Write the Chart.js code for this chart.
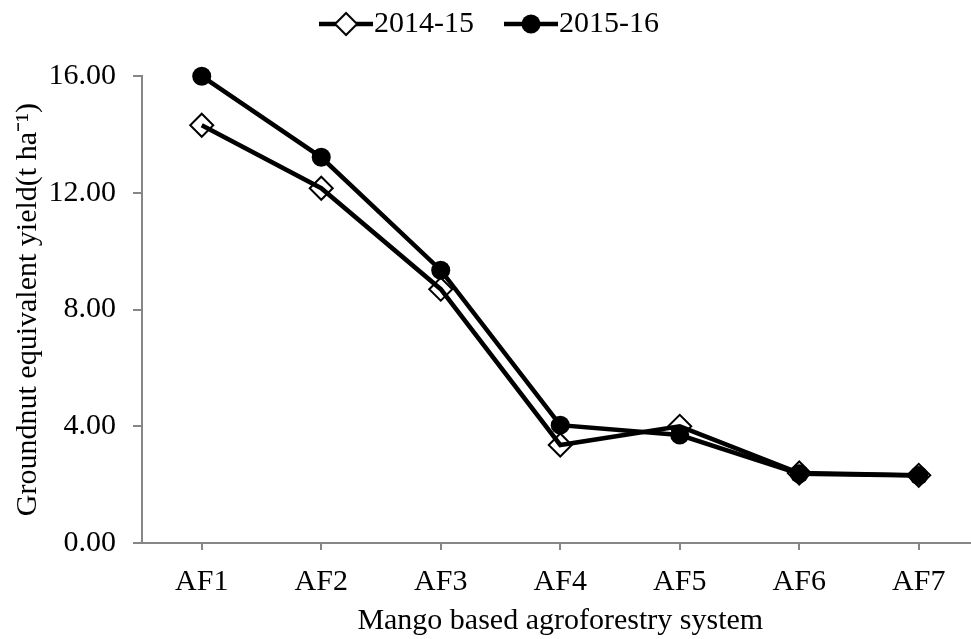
<!DOCTYPE html>
<html><head><meta charset="utf-8">
<script src="https://cdn.jsdelivr.net/npm/chart.js@4.4.1/dist/chart.umd.min.js"></script>
<style>html,body{margin:0;padding:0;background:#fff;overflow:hidden}#wrap{width:992px;height:639px;position:relative}</style>
</head><body><div id="wrap"><canvas id="c"></canvas></div>
<script>
const categories = ['AF1', 'AF2', 'AF3', 'AF4', 'AF5', 'AF6', 'AF7'];
const seriesNames = ['2014-15', '2015-16'];
const yield2014 = [14.32, 12.16, 8.70, 3.36, 4.00, 2.40, 2.32];
const yield2015 = [16.00, 13.22, 9.35, 4.04, 3.70, 2.37, 2.31];
const yTicks = [0, 4, 8, 12, 16];
const xTitle = 'Mango based agroforestry system';
const yTitle = 'Groundnut equivalent yield(t ha\u207B\u00B9)';

const FONT = "'Liberation Serif', 'Times New Roman', serif";
const FS = 30;
const AXIS = '#868686';
Chart.defaults.font.family = FONT;
Chart.defaults.font.size = FS;
Chart.defaults.color = '#000';

function legendIcon(kind) {
  const c = document.createElement('canvas');
  c.width = 54; c.height = 26;
  const g = c.getContext('2d');
  g.strokeStyle = '#000'; g.lineWidth = 4.5;
  g.beginPath(); g.moveTo(0, 13); g.lineTo(54, 13); g.stroke();
  if (kind === 'diamond') {
    g.fillStyle = '#fff'; g.lineWidth = 2;
    g.beginPath(); g.moveTo(27, 2); g.lineTo(38, 13); g.lineTo(27, 24); g.lineTo(16, 13); g.closePath();
    g.fill(); g.stroke();
  } else {
    g.fillStyle = '#000';
    g.beginPath(); g.arc(27, 13, 9.5, 0, Math.PI * 2); g.fill();
  }
  return c;
}
const icons = [legendIcon('diamond'), legendIcon('circle')];

new Chart(document.getElementById('c'), {
  type: 'line',
  data: {
    labels: categories,
    datasets: [
      {
        label: seriesNames[0], data: yield2014,
        borderColor: '#000', borderWidth: 4.5, tension: 0,
        pointStyle: 'rectRot', pointRadius: 11.5, pointBorderWidth: 2,
        pointBackgroundColor: 'rgba(255,255,255,0)', pointBorderColor: '#000',
        clip: false
      },
      {
        label: seriesNames[1], data: yield2015,
        borderColor: '#000', borderWidth: 4.5, tension: 0,
        pointStyle: 'circle', pointRadius: 9.5, pointBorderWidth: 0,
        pointBackgroundColor: '#000', pointBorderColor: '#000',
        clip: false
      }
    ]
  },
  options: {
    responsive: true, maintainAspectRatio: false, animation: false,
    layout: { padding: { left: 0, right: 0, top: -35, bottom: 0 } },
    plugins: {
      tooltip: { enabled: false },
      legend: {
        position: 'top', weight: 1000,
        labels: {
          usePointStyle: true, pointStyleWidth: 26, padding: 44,
          font: { size: FS, family: FONT }, color: '#000',
          generateLabels: (chart) => chart.data.datasets.map((d, i) => ({
            text: d.label, pointStyle: icons[i], datasetIndex: i,
            fillStyle: '#000', strokeStyle: '#000', lineWidth: 0, hidden: false
          }))
        }
      },
      title: {
        display: true, text: ' ', position: 'top', weight: 500,
        font: { size: 1 }, padding: { top: 0, bottom: 26 }
      }
    },
    scales: {
      x: {
        type: 'category', offset: true,
        grid: { display: true, drawOnChartArea: false, drawTicks: true, tickLength: 7, color: AXIS, lineWidth: 2, offset: false },
        border: { display: true, color: AXIS, width: 2 },
        ticks: { padding: 14, color: '#000', font: { size: FS } },
        title: { display: true, text: xTitle, color: '#000', font: { size: FS }, padding: { top: -1, bottom: 0 } },
        afterFit: (s) => { s.height = 96; }
      },
      y: {
        min: 0, max: 16,
        afterBuildTicks: (s) => { s.ticks = yTicks.map(v => ({ value: v })); },
        grid: { display: true, drawOnChartArea: false, drawTicks: true, tickLength: 9, color: AXIS, lineWidth: 2 },
        border: { display: true, color: AXIS, width: 2 },
        ticks: { padding: 17, color: '#000', font: { size: FS }, callback: (v) => Number(v).toFixed(2) },
        title: { display: true, text: yTitle, color: '#000', font: { size: FS }, padding: { top: 10, bottom: 0 } },
        afterFit: (s) => { s.width = 142; }
      }
    }
  }
});
</script>
</body></html>
